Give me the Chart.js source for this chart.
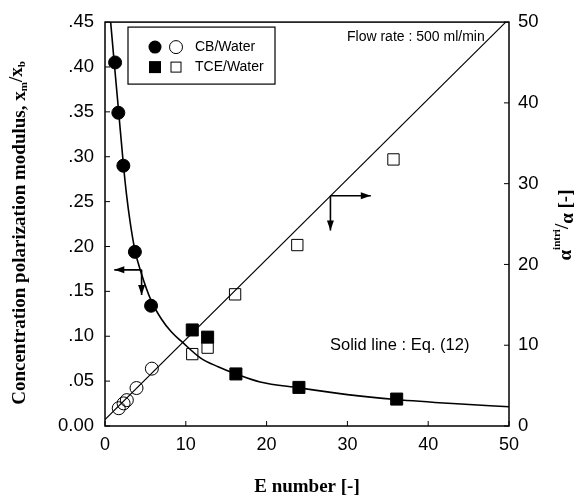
<!DOCTYPE html>
<html>
<head>
<meta charset="utf-8">
<script src="https://cdn.jsdelivr.net/npm/chart.js@4"></script>
<style>
html, body { margin: 0; padding: 0; background: #fff; }
#wrap { width: 588px; height: 499px; position: relative; }
</style>
</head>
<body>
<div id="wrap"><canvas id="chart"></canvas></div>
<script>
// Measured points - CB/Water (left axis: modulus, right axis: alpha ratio)
const cbE = [1.25, 1.65, 2.27, 3.7, 5.7];
const cbModulus = [0.405, 0.349, 0.290, 0.194, 0.134];
const cbAlphaE = [1.7, 2.3, 2.7, 3.9, 5.8];
const cbAlpha = [2.2, 2.8, 3.2, 4.7, 7.1];

// Measured points - TCE/Water
const tceE = [10.8, 12.7, 16.2, 24.0, 36.1];
const tceModulus = [0.107, 0.099, 0.058, 0.043, 0.030];
const tceAlphaE = [10.8, 12.7, 16.1, 23.8, 35.7];
const tceAlpha = [8.9, 9.7, 16.3, 22.4, 33.0];

// Eq. (12) solid lines
const curveE = [0.70, 1.14, 1.70, 2.29, 2.65, 3.1, 3.7, 4.5, 5.7, 7.0, 8.2, 9.5, 11.8, 14.0, 16.2, 19.2, 24.0, 30.0, 36.0, 43.0, 50.0];
const curveModulus = [0.450, 0.405, 0.349, 0.290, 0.259, 0.228, 0.196, 0.170, 0.140, 0.119, 0.105, 0.094, 0.076, 0.066, 0.058, 0.049, 0.0425, 0.035, 0.0295, 0.025, 0.0215];
const lineE = [0, 49.6];
const lineAlpha = [0.8, 50];

// Axis ticks
const xTicks = [0, 10, 20, 30, 40, 50];
const leftTickLabels = ['0.00', '.05', '.10', '.15', '.20', '.25', '.30', '.35', '.40', '.45'];
const rightTicks = [0, 10, 20, 30, 40, 50];

// Arrows showing which axis a curve belongs to (data units)
const leftArrow = { axis: 'y', x: 4.53, y: 0.174, toX: 1.15, toY: 0.146 };
const rightArrow = { axis: 'y2', x: 27.9, y: 28.5, toX: 32.9, toY: 24.2 };

function pts(xs, ys) {
    return xs.map((x, i) => ({ x: x, y: ys[i] }));
}

const SANS = '"Liberation Sans", Arial, sans-serif';
const SERIF = '"Liberation Serif", "Times New Roman", serif';

// draw a run of text pieces (with sub/superscripts) centred on (cx, cy)
function drawRich(ctx, parts, cx, cy, rot) {
    ctx.save();
    ctx.translate(cx, cy);
    ctx.rotate(rot);
    let total = 0;
    parts.forEach(p => {
        ctx.font = p.font;
        p.w = ctx.measureText(p.text).width;
        total += p.w;
    });
    let x = -total / 2;
    ctx.fillStyle = '#000';
    ctx.textBaseline = 'middle';
    ctx.textAlign = 'left';
    parts.forEach(p => {
        ctx.font = p.font;
        ctx.fillText(p.text, x, p.dy || 0);
        x += p.w;
    });
    ctx.restore();
}

function drawArrowHead(ctx, x, y, dx, dy) {
    const len = 10, half = 3.5;
    ctx.beginPath();
    ctx.moveTo(x, y);
    ctx.lineTo(x - dx * len - dy * half, y - dy * len + dx * half);
    ctx.lineTo(x - dx * len + dy * half, y - dy * len - dx * half);
    ctx.closePath();
    ctx.fill();
}

function drawArrowPair(chart, a) {
    const ctx = chart.ctx;
    const xs = chart.scales.x, ys = chart.scales[a.axis];
    const px = xs.getPixelForValue(a.x), py = ys.getPixelForValue(a.y);
    const hx = xs.getPixelForValue(a.toX), vy = ys.getPixelForValue(a.toY);
    ctx.save();
    ctx.strokeStyle = '#000';
    ctx.fillStyle = '#000';
    ctx.lineWidth = 1.6;
    ctx.beginPath();
    ctx.moveTo(px, py);
    ctx.lineTo(hx, py);
    ctx.moveTo(px, py);
    ctx.lineTo(px, vy);
    ctx.stroke();
    drawArrowHead(ctx, hx, py, Math.sign(hx - px), 0);
    drawArrowHead(ctx, px, vy, 0, 1);
    ctx.restore();
}

const decorPlugin = {
    id: 'decor',
    afterDraw(chart) {
        const ctx = chart.ctx;
        const area = chart.chartArea;
        const xs = chart.scales.x, yl = chart.scales.y, yr = chart.scales.y2;

        // frame
        ctx.save();
        ctx.strokeStyle = '#000';
        ctx.lineWidth = 1.5;
        ctx.strokeRect(area.left, area.top, area.right - area.left, area.bottom - area.top);

        // inward ticks
        ctx.lineWidth = 1;
        ctx.beginPath();
        xTicks.forEach(v => {
            const p = xs.getPixelForValue(v);
            ctx.moveTo(p, area.bottom);
            ctx.lineTo(p, area.bottom - 5);
        });
        yl.ticks.forEach(t => {
            const p = yl.getPixelForValue(t.value);
            ctx.moveTo(area.left, p);
            ctx.lineTo(area.left + 5, p);
        });
        rightTicks.forEach(v => {
            const p = yr.getPixelForValue(v);
            ctx.moveTo(area.right, p);
            ctx.lineTo(area.right - 5, p);
        });
        ctx.stroke();
        ctx.restore();

        drawArrowPair(chart, leftArrow);
        drawArrowPair(chart, rightArrow);

        // legend box
        ctx.save();
        const lx = area.left + 23, ly = area.top + 5;
        ctx.strokeStyle = '#000';
        ctx.lineWidth = 1.2;
        ctx.strokeRect(lx, ly, 147, 57);
        ctx.fillStyle = '#000';
        ctx.beginPath();
        ctx.arc(lx + 27, ly + 20, 6.5, 0, Math.PI * 2);
        ctx.fill();
        ctx.beginPath();
        ctx.lineWidth = 1;
        ctx.arc(lx + 48, ly + 20, 6.5, 0, Math.PI * 2);
        ctx.stroke();
        ctx.fillRect(lx + 21, ly + 34, 12, 12);
        ctx.strokeRect(lx + 43, ly + 35, 10, 10);
        ctx.font = '14px ' + SANS;
        ctx.textBaseline = 'middle';
        ctx.fillText('CB/Water', lx + 67, ly + 20);
        ctx.fillText('TCE/Water', lx + 67, ly + 40);

        // notes
        ctx.font = '14px ' + SANS;
        ctx.fillText('Flow rate : 500 ml/min', 347, 37);
        ctx.font = '16.5px ' + SANS;
        ctx.fillText('Solid line : Eq. (12)', 330, 345);
        ctx.restore();

        // axis titles
        const b19 = 'bold 19px ' + SERIF, b11 = 'bold 11px ' + SERIF;
        drawRich(ctx, [{ text: 'E number [-]', font: b19 }], (area.left + area.right) / 2, 487, 0);
        drawRich(ctx, [
            { text: 'Concentration polarization modulus, x', font: b19 },
            { text: 'm', font: b11, dy: 4 },
            { text: '/', font: b19, dy: -3 },
            { text: 'x', font: b19, dy: -3 },
            { text: 'b', font: b11, dy: 2 }
        ], 20, 233, -Math.PI / 2);
        drawRich(ctx, [
            { text: 'α', font: b19 },
            { text: 'intri', font: b11, dy: -9 },
            { text: '/', font: b19, dy: -3 },
            { text: 'α', font: b19, dy: 2 },
            { text: ' [-]', font: b19 }
        ], 566, 225, -Math.PI / 2);
    }
};

const ctx = document.getElementById('chart').getContext('2d');

new Chart(ctx, {
    type: 'scatter',
    data: {
        datasets: [
            {
                label: 'Eq. (12) modulus',
                type: 'line',
                data: pts(curveE, curveModulus),
                yAxisID: 'y',
                borderColor: '#000',
                borderWidth: 1.6,
                pointRadius: 0,
                cubicInterpolationMode: 'monotone',
                fill: false
            },
            {
                label: 'Eq. (12) alpha',
                type: 'line',
                data: pts(lineE, lineAlpha),
                yAxisID: 'y2',
                borderColor: '#000',
                borderWidth: 1.1,
                pointRadius: 0,
                fill: false
            },
            {
                label: 'CB/Water modulus',
                data: pts(cbE, cbModulus),
                yAxisID: 'y',
                pointStyle: 'circle',
                pointRadius: 6.5,
                backgroundColor: '#000',
                borderColor: '#000'
            },
            {
                label: 'CB/Water alpha',
                data: pts(cbAlphaE, cbAlpha),
                yAxisID: 'y2',
                pointStyle: 'circle',
                pointRadius: 6.5,
                backgroundColor: 'rgba(255,255,255,0)',
                borderColor: '#000',
                borderWidth: 1
            },
            {
                label: 'TCE/Water modulus',
                data: pts(tceE, tceModulus),
                yAxisID: 'y',
                pointStyle: 'rect',
                pointRadius: 8.5,
                backgroundColor: '#000',
                borderColor: '#000'
            },
            {
                label: 'TCE/Water alpha',
                data: pts(tceAlphaE, tceAlpha),
                yAxisID: 'y2',
                pointStyle: 'rect',
                pointRadius: 8,
                backgroundColor: '#fff',
                borderColor: '#000',
                borderWidth: 1
            }
        ]
    },
    options: {
        responsive: true,
        maintainAspectRatio: false,
        animation: false,
        layout: { padding: { top: 16, left: 0, right: 0, bottom: 0 } },
        plugins: {
            legend: { display: false },
            tooltip: { enabled: false }
        },
        scales: {
            x: {
                type: 'linear',
                min: 0,
                max: 50,
                afterBuildTicks: s => { s.ticks = xTicks.map(v => ({ value: v })); },
                ticks: { color: '#000', font: { family: SANS, size: 18 }, padding: 8, maxRotation: 0 },
                grid: { display: false, drawTicks: false },
                border: { display: false },
                afterFit: s => { s.height = 73; }
            },
            y: {
                position: 'left',
                min: 0,
                max: 0.45,
                ticks: {
                    stepSize: 0.05,
                    color: '#000',
                    font: { family: SANS, size: 18.5 },
                    padding: 11,
                    callback: (v, i) => leftTickLabels[i]
                },
                grid: { display: false, drawTicks: false },
                border: { display: false },
                afterFit: s => { s.width = 105; }
            },
            y2: {
                position: 'right',
                min: 0,
                max: 50,
                afterBuildTicks: s => { s.ticks = rightTicks.map(v => ({ value: v })); },
                ticks: { color: '#000', font: { family: SANS, size: 18.5 }, padding: 9 },
                grid: { display: false, drawTicks: false },
                border: { display: false },
                afterFit: s => { s.width = 79; }
            }
        }
    },
    plugins: [decorPlugin]
});
</script>
</body>
</html>
